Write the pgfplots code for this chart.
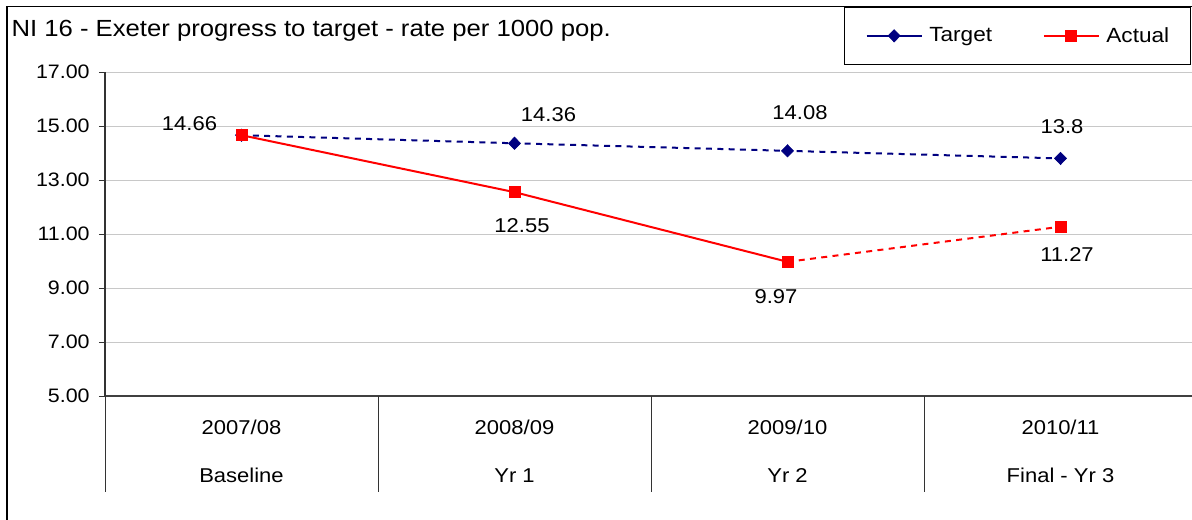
\documentclass[border=0pt]{standalone}
\usepackage{pgfplots}
\pgfplotsset{compat=1.18}
\usepackage{fontspec}
\setmainfont{Liberation Sans}[FakeStretch=1.1]
\definecolor{navyT}{RGB}{0,0,128}
\definecolor{gridc}{RGB}{200,200,200}
\begin{document}
\begin{tikzpicture}
\useasboundingbox (0,0) rectangle (894pt,-389.25pt);
\draw[black, line width=1.2pt] (5.25pt,-400pt) -- (5.25pt,-4.8pt) -- (900pt,-4.8pt);
\node[anchor=base west, font=\fontsize{17.5}{19}\selectfont, inner sep=0pt] at (8.5pt,-27pt) {NI 16 - Exeter progress to target - rate per 1000 pop.};
\begin{axis}[
  at={(78.75pt,-297pt)}, anchor=south west,
  scale only axis, width=815.25pt, height=243pt,
  xmin=-0.5, xmax=3.4817, ymin=5, ymax=17,
  axis x line*=bottom, axis y line*=left,
  x axis line style={-, draw=black!75, line width=1pt},
  y axis line style={-, draw=black!80, line width=1pt},
  xtick=\empty,
  ytick={5,7,...,17},
  ymajorgrids, grid style={gridc, line width=0.75pt},
  tick align=outside, major tick length=4.5pt,
  tick style={black!80, line width=0.75pt},
  yticklabel style={font=\fontsize{14.6}{16}\selectfont, xshift=-3.5pt, /pgf/number format/.cd, fixed, fixed zerofill, precision=2, assume math mode=true},
  clip=false,
  legend columns=2,
  legend style={at={(0.9991,1.2006)}, anchor=north east, draw=black, line width=0.75pt, font=\fontsize{15.4}{17}\selectfont, inner xsep=16pt, inner ysep=14.9pt, nodes={inner sep=0pt}, /tikz/every odd column/.append style={column sep=5pt}, /tikz/every even column/.append style={column sep=38pt}},
  legend image code/.code={\draw[mark repeat=2, mark phase=2, #1, solid] plot coordinates {(0pt,0pt) (20.625pt,0pt) (41.25pt,0pt)};},
]
\addplot[navyT, line width=1.5pt, dash pattern=on 4.5pt off 4pt, mark=diamond*, mark size=4.6pt, mark options={solid, xscale=1.3, line width=0.5pt, fill=navyT}] coordinates {(0,14.66) (1,14.36) (2,14.08) (3,13.8)};
\addlegendentry{Target}
\addplot[red, line width=1.5pt, mark=square*, mark size=4.1pt, mark options={solid, line width=0.5pt, fill=red}] coordinates {(0,14.66) (1,12.55) (2,9.97)};
\addlegendentry{Actual}
\addplot[red, line width=1.5pt, dash pattern=on 4.5pt off 4pt, mark=square*, mark size=4.1pt, mark options={solid, line width=0.5pt, fill=red}, forget plot] coordinates {(2,9.97) (3,11.27)};

\draw[black!80, line width=0.75pt] (axis cs:-0.5,5) -- ++(0pt,-72pt);
\draw[black!80, line width=0.75pt] (axis cs:0.5,5) -- ++(0pt,-72pt);
\draw[black!80, line width=0.75pt] (axis cs:1.5,5) -- ++(0pt,-72pt);
\draw[black!80, line width=0.75pt] (axis cs:2.5,5) -- ++(0pt,-72pt);

\node[anchor=base, font=\fontsize{15}{17}\selectfont, yshift=-28.5pt] at (axis cs:0,5) {2007/08};
\node[anchor=base, font=\fontsize{15}{17}\selectfont, yshift=-28.5pt] at (axis cs:1,5) {2008/09};
\node[anchor=base, font=\fontsize{15}{17}\selectfont, yshift=-28.5pt] at (axis cs:2,5) {2009/10};
\node[anchor=base, font=\fontsize{15}{17}\selectfont, yshift=-28.5pt] at (axis cs:3,5) {2010/11};
\node[anchor=base, font=\fontsize{15}{17}\selectfont, yshift=-64.5pt] at (axis cs:0,5) {Baseline};
\node[anchor=base, font=\fontsize{15}{17}\selectfont, yshift=-64.5pt] at (axis cs:1,5) {Yr 1};
\node[anchor=base, font=\fontsize{15}{17}\selectfont, yshift=-64.5pt] at (axis cs:2,5) {Yr 2};
\node[anchor=base, font=\fontsize{15}{17}\selectfont, yshift=-64.5pt] at (axis cs:3,5) {Final - Yr 3};

\node[font=\fontsize{15}{17}\selectfont] at (axis cs:-0.1905,15.074) {14.66};
\node[font=\fontsize{15}{17}\selectfont] at (axis cs:1.1245,15.407) {14.36};
\node[font=\fontsize{15}{17}\selectfont] at (axis cs:2.0458,15.5) {14.08};
\node[font=\fontsize{15}{17}\selectfont] at (axis cs:3.0055,14.98) {13.8};
\node[font=\fontsize{15}{17}\selectfont] at (axis cs:1.0275,11.296) {12.55};
\node[font=\fontsize{15}{17}\selectfont] at (axis cs:1.958,8.667) {9.97};
\node[font=\fontsize{15}{17}\selectfont] at (axis cs:3.0238,10.222) {11.27};
\end{axis}
\end{tikzpicture}
\end{document}
